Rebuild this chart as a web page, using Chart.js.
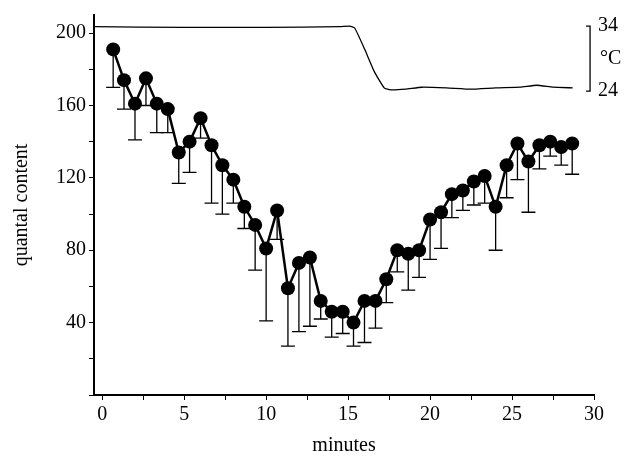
<!DOCTYPE html>
<html><head><meta charset="utf-8">
<script src="https://cdn.jsdelivr.net/npm/chart.js@4/dist/chart.umd.min.js"></script>
<style>html,body{margin:0;background:#fff}</style>
</head><body><canvas id="c" width="640" height="462"></canvas>
<script>
// quantal content every 40 s
const minutes = [0.67,1.33,2,2.67,3.33,4,4.67,5.33,6,6.67,7.33,8,8.67,9.33,10,10.67,11.33,12,12.67,13.33,14,14.67,15.33,16,16.67,17.33,18,18.67,19.33,20,20.67,21.33,22,22.67,23.33,24,24.67,25.33,26,26.67,27.33,28,28.67];
const quantal = [191,174,161,175,161,158,134,140,153,138,127,119,104,94,81,102,59,73,76,52,46,46,40,52,52,64,80,78,80,97,101,111,113,118,121,104,127,139,129,138,140,137,139];
const lowerBar = [170,158,141,160,145,145,117,123,142,106,100,106,92,69,41,86,27,35,38,42,32,34,27,29,37,51,68,58,65,75,81,98,102,105,106,80,109,119,101,125,132,127,122];
// temperature trace
const tempMin = [-0.5,5,10,14.5,15.1,15.4,16,16.6,17.2,17.6,18.5,19.5,21,22.5,24,25.5,26.5,27.5,28.7];
const tempC = [33.9,33.8,33.8,33.9,34.0,33.7,30.5,27.0,24.5,24.2,24.3,24.6,24.5,24.3,24.5,24.6,24.9,24.6,24.5];
const xTicks = [0,2.5,5,7.5,10,12.5,15,17.5,20,22.5,25,27.5,30];
const serif = "'Liberation Serif', serif";

const extras = {
  id: 'extras',
  afterDatasetsDraw(chart){
    const ctx = chart.ctx, x = chart.scales.x, y = chart.scales.y, t = chart.scales.t;
    ctx.save();
    ctx.strokeStyle = '#000'; ctx.lineWidth = 1.3;
    minutes.forEach((m, i) => {
      const px = x.getPixelForValue(m);
      const y0 = y.getPixelForValue(quantal[i]), y1 = y.getPixelForValue(lowerBar[i]);
      ctx.beginPath(); ctx.moveTo(px, y0); ctx.lineTo(px, y1);
      ctx.moveTo(px - 7, y1); ctx.lineTo(px + 7, y1); ctx.stroke();
    });
    // temperature scale bracket
    const bx = x.getPixelForValue(29.76), ya = t.getPixelForValue(34), yb = t.getPixelForValue(24);
    ctx.beginPath(); ctx.moveTo(bx - 4, ya); ctx.lineTo(bx, ya); ctx.lineTo(bx, yb); ctx.lineTo(bx - 4, yb); ctx.stroke();
    ctx.fillStyle = '#000'; ctx.font = '20px ' + serif; ctx.textBaseline = 'middle';
    ctx.fillText('34', bx + 8, ya);
    ctx.fillText('°C', bx + 10, (ya + yb) / 2);
    ctx.fillText('24', bx + 8, yb);
    ctx.restore();
  }
};

new Chart(document.getElementById('c'), {
  type: 'line',
  data: {
    datasets: [
      { data: minutes.map((m, i) => ({ x: m, y: quantal[i] })), borderColor: '#000', borderWidth: 2.5,
        pointRadius: 7, pointBackgroundColor: '#000', pointBorderWidth: 0, yAxisID: 'y' },
      { data: tempMin.map((m, i) => ({ x: m, y: tempC[i] })), borderColor: '#000', borderWidth: 1.3,
        pointRadius: 0, tension: 0.15, yAxisID: 't' }
    ]
  },
  plugins: [extras],
  options: {
    responsive: false, animation: false, devicePixelRatio: 1,
    layout: { padding: { top: 9, right: 46, left: 6 } },
    plugins: { legend: { display: false }, tooltip: { enabled: false } },
    scales: {
      x: {
        type: 'linear', min: -0.5, max: 30,
        afterBuildTicks: s => { s.ticks = xTicks.map(v => ({ value: v })); },
        afterFit: s => { s.height = 67; },
        border: { color: '#000', width: 2 },
        grid: { drawOnChartArea: false, tickLength: 5, color: '#000' },
        ticks: { color: '#000', font: { family: serif, size: 20 }, maxRotation: 0, autoSkip: false,
          callback: v => v % 5 === 0 ? v : '' },
        title: { display: true, text: 'minutes', color: '#000', font: { family: serif, size: 20 }, padding: { top: 0 } }
      },
      y: {
        min: 0, max: 210,
        afterBuildTicks: s => { s.ticks = [0,20,40,60,80,100,120,140,160,180,200].map(v => ({ value: v })); },
        afterFit: s => { s.width = 88; },
        border: { color: '#000', width: 2 },
        grid: { drawOnChartArea: false, tickLength: 5, color: '#000' },
        ticks: { color: '#000', font: { family: serif, size: 20 },
          callback: v => (v % 40 === 0 && v > 0) ? v : '' },
        title: { display: true, text: 'quantal content', color: '#000', font: { family: serif, size: 20 } }
      },
      t: { display: false, min: -22.7, max: 35.7 }
    }
  }
});
</script></body></html>
